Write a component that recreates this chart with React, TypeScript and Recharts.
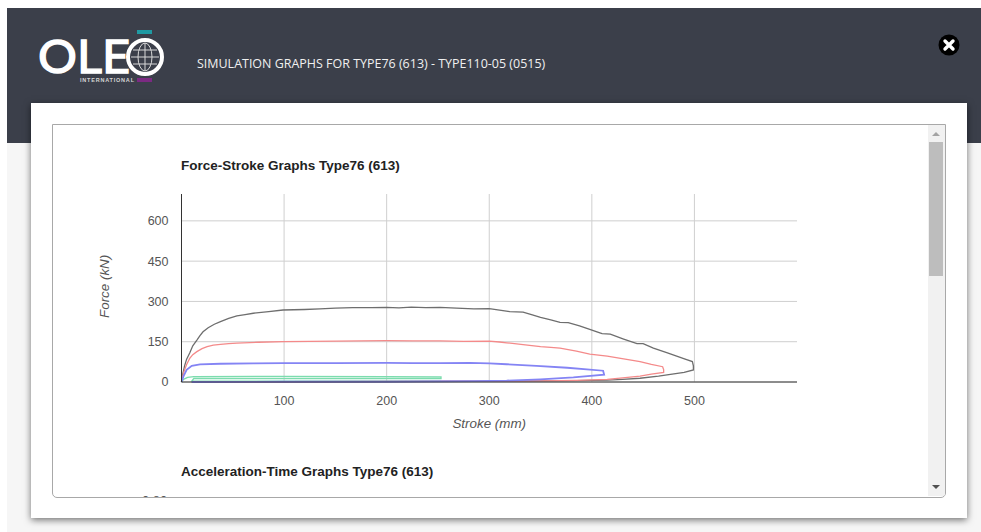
import React from 'react';
import { LineChart, Line, XAxis, YAxis, CartesianGrid } from 'recharts';

// strokes in mm, forces in kN
const grayStroke = [0, 1, 3, 5, 8, 11, 15, 18, 21, 26, 32, 38, 46, 54, 62, 70, 85, 99, 120, 135, 150, 167, 185, 200, 212, 224, 238, 252, 268, 285, 300, 310, 320, 333, 342, 350, 360, 369, 377, 388, 398, 405, 410, 418, 431, 444, 450, 460, 473, 482, 491, 498, 499, 499, 490, 480, 465, 447, 430, 415, 385, 350, 200, 100, 10];
const grayForce = [0, 25, 60, 85, 108, 135, 156, 173, 187, 202, 215, 225, 237, 246, 251, 256, 262, 268, 270, 272, 275, 277, 277, 278, 276, 279, 277, 278, 275, 272, 273, 268, 262, 260, 250, 241, 231, 222, 221, 209, 196, 187, 180, 178, 160, 143, 143, 126, 109, 97, 85, 76, 60, 45, 36, 30, 22, 14, 10, 7, 5, 4, 2, 1, 0];

const redStroke = [0, 1, 2, 5, 8, 11, 15, 20, 25, 31, 38, 46, 54, 75, 99, 125, 151, 175, 200, 225, 252, 275, 300, 310, 317, 333, 350, 360, 369, 385, 398, 415, 431, 447, 458, 469, 470, 470, 458, 447, 430, 415, 385, 350, 200, 100, 10];
const redForce = [0, 18, 35, 65, 88, 102, 113, 124, 132, 137, 140, 143, 145, 148, 150, 151, 152, 153, 154, 153, 153, 151, 152, 149, 146, 139, 132, 129, 126, 115, 104, 96, 86, 76, 66, 57, 46, 36, 29, 22, 15, 10, 6, 4, 2, 1, 0];

const blueStroke = [0, 2, 5, 10, 18, 38, 70, 99, 151, 200, 225, 252, 281, 300, 317, 346, 376, 411, 412, 382, 350, 317, 285, 200, 100, 10];
const blueForce = [0, 22, 45, 60, 66, 68, 69, 70, 70, 71, 70, 70, 71, 69, 66, 60, 53, 42, 27, 17, 10, 5, 3, 1, 1, 0];

const greenStroke = [0, 2, 6, 12, 100, 200, 253, 253, 200, 100, 12, 10, 100, 253];
const greenForce = [0, 10, 17, 20, 21, 20, 19, 13, 13, 13, 13, 3, 3, 2];

const xTicks = [100, 200, 300, 400, 500];
const yTicks = [0, 150, 300, 450, 600];

const toPoints = (strokes: number[], forces: number[]) =>
  strokes.map((stroke, i) => ({ stroke, force: forces[i] }));

const series = [
  { name: 'gray', color: '#6e6e6e', width: 1.3, data: toPoints(grayStroke, grayForce) },
  { name: 'red', color: '#f48a8a', width: 1.3, data: toPoints(redStroke, redForce) },
  { name: 'green', color: '#7cdcae', width: 1.3, data: toPoints(greenStroke, greenForce) },
  { name: 'blue', color: '#8484f4', width: 1.8, data: toPoints(blueStroke, blueForce) },
];

const font = 'Arial, "Liberation Sans", sans-serif';

const titleStyle: React.CSSProperties = {
  position: 'absolute',
  fontFamily: font,
  fontWeight: 700,
  fontSize: 13.5,
  color: '#222',
  whiteSpace: 'nowrap',
};

function Logo() {
  return (
    <svg width={170} height={70} style={{ position: 'absolute', left: 0, top: 25 }} viewBox="0 25 170 70">
      <text x={38} y={73} fill="#fff" stroke="#fff" strokeWidth={1.3} fontFamily="Lato, sans-serif" fontSize={46} textLength={92} lengthAdjust="spacingAndGlyphs">OLE</text>
      <circle cx={145} cy={57} r={17} fill="none" stroke="#fff" strokeWidth={4} />
      <g stroke="#d8d8d8" strokeWidth={1} fill="none">
        <ellipse cx={145} cy={57} rx={7} ry={14} />
        <line x1={145} y1={43} x2={145} y2={71} />
        <line x1={131} y1={57} x2={159} y2={57} />
        <line x1={133} y1={50} x2={157} y2={50} />
        <line x1={133} y1={64} x2={157} y2={64} />
      </g>
      <rect x={137} y={30} width={15} height={4} fill="#1f9aa3" />
      <rect x={137} y={78} width={15} height={4} fill="#7b2a82" />
      <text x={80} y={82} fill="#d5d5d5" fontFamily={font} fontWeight={700} fontSize={5.5} textLength={54}>INTERNATIONAL</text>
    </svg>
  );
}

function CloseButton() {
  return (
    <svg width={22} height={22} viewBox="0 0 22 22" style={{ position: 'absolute', left: 938, top: 34 }}>
      <circle cx={11} cy={11} r={10.5} fill="#000" />
      <path d="M7 7 L15 15 M15 7 L7 15" stroke="#fff" strokeWidth={3.4} strokeLinecap="round" />
    </svg>
  );
}

function Scrollbar() {
  return (
    <div style={{ position: 'absolute', left: 875, top: 0, width: 17, height: 371, background: '#f1f1f1' }}>
      <div style={{ position: 'absolute', left: 4, top: 7, width: 0, height: 0, borderLeft: '4px solid transparent', borderRight: '4px solid transparent', borderBottom: '4px solid #a3a3a3' }} />
      <div style={{ position: 'absolute', left: 1, top: 17, width: 14, height: 134, background: '#bdbdbd' }} />
      <div style={{ position: 'absolute', left: 4, top: 360, width: 0, height: 0, borderLeft: '4px solid transparent', borderRight: '4px solid transparent', borderTop: '4px solid #505050' }} />
    </div>
  );
}

export default function App() {
  return (
    <div style={{ position: 'fixed', left: 0, top: 0, width: 981, height: 532, background: '#fff', overflow: 'hidden' }}>
      <div style={{ position: 'absolute', left: 7, top: 143, width: 974, height: 389, background: '#f6f6f6' }} />
      <div style={{ position: 'absolute', left: 7, top: 8, width: 974, height: 135, background: '#3b3f4a' }} />
      <Logo />
      <div style={{ position: 'absolute', left: 197, top: 55, fontFamily: '"Open Sans", sans-serif', fontSize: 12.47, color: '#f0f0f0', whiteSpace: 'nowrap' }}>
        SIMULATION GRAPHS FOR TYPE76 (613) - TYPE110-05 (0515)
      </div>
      <CloseButton />

      <div style={{ position: 'absolute', left: 31, top: 103, width: 936, height: 415, background: '#fff', boxShadow: '0 2px 7px rgba(0,0,0,0.55)' }} />

      <div style={{ position: 'absolute', left: 52, top: 124, width: 892, height: 372, border: '1px solid #a8a8a8', borderBottomLeftRadius: 5, borderBottomRightRadius: 5, background: '#fff', overflow: 'hidden' }}>
        <div style={{ ...titleStyle, left: 128, top: 33 }}>Force-Stroke Graphs Type76 (613)</div>
        <LineChart
          width={875}
          height={371}
          margin={{ left: 68.5, top: 69, right: 131, bottom: 84 }}
        >
          <CartesianGrid stroke="#cfcfcf" strokeWidth={1} syncWithTicks />
          <XAxis
            type="number"
            dataKey="stroke"
            domain={[0, 600]}
            ticks={xTicks}
            height={30}
            axisLine={{ stroke: '#333', strokeWidth: 1 }}
            tickLine={false}
            tickMargin={8}
            tick={{ fill: '#555', fontSize: 12.5, fontFamily: font }}
            label={{ value: 'Stroke (mm)', position: 'bottom', offset: 6, fill: '#555', fontSize: 13.4, fontStyle: 'italic', fontFamily: font }}
          />
          <YAxis
            type="number"
            dataKey="force"
            domain={[0, 700]}
            ticks={yTicks}
            width={60}
            axisLine={{ stroke: '#333', strokeWidth: 1 }}
            tickLine={false}
            tickMargin={7}
            tick={{ fill: '#555', fontSize: 12.5, fontFamily: font }}
            label={{ value: 'Force (kN)', angle: -90, position: 'insideLeft', offset: -17, dy: 30, fill: '#555', fontSize: 13.4, fontStyle: 'italic', fontFamily: font }}
          />
          {series.map((s) => (
            <Line
              key={s.name}
              data={s.data}
              dataKey="force"
              type="linear"
              stroke={s.color}
              strokeWidth={s.width}
              dot={false}
              isAnimationActive={false}
            />
          ))}
        </LineChart>
        <div style={{ ...titleStyle, left: 128, top: 339 }}>Acceleration-Time Graphs Type76 (613)</div>
        <div style={{ position: 'absolute', left: 89, top: 368, fontFamily: font, fontSize: 13, color: '#555' }}>0.80</div>
        <Scrollbar />
      </div>
    </div>
  );
}
